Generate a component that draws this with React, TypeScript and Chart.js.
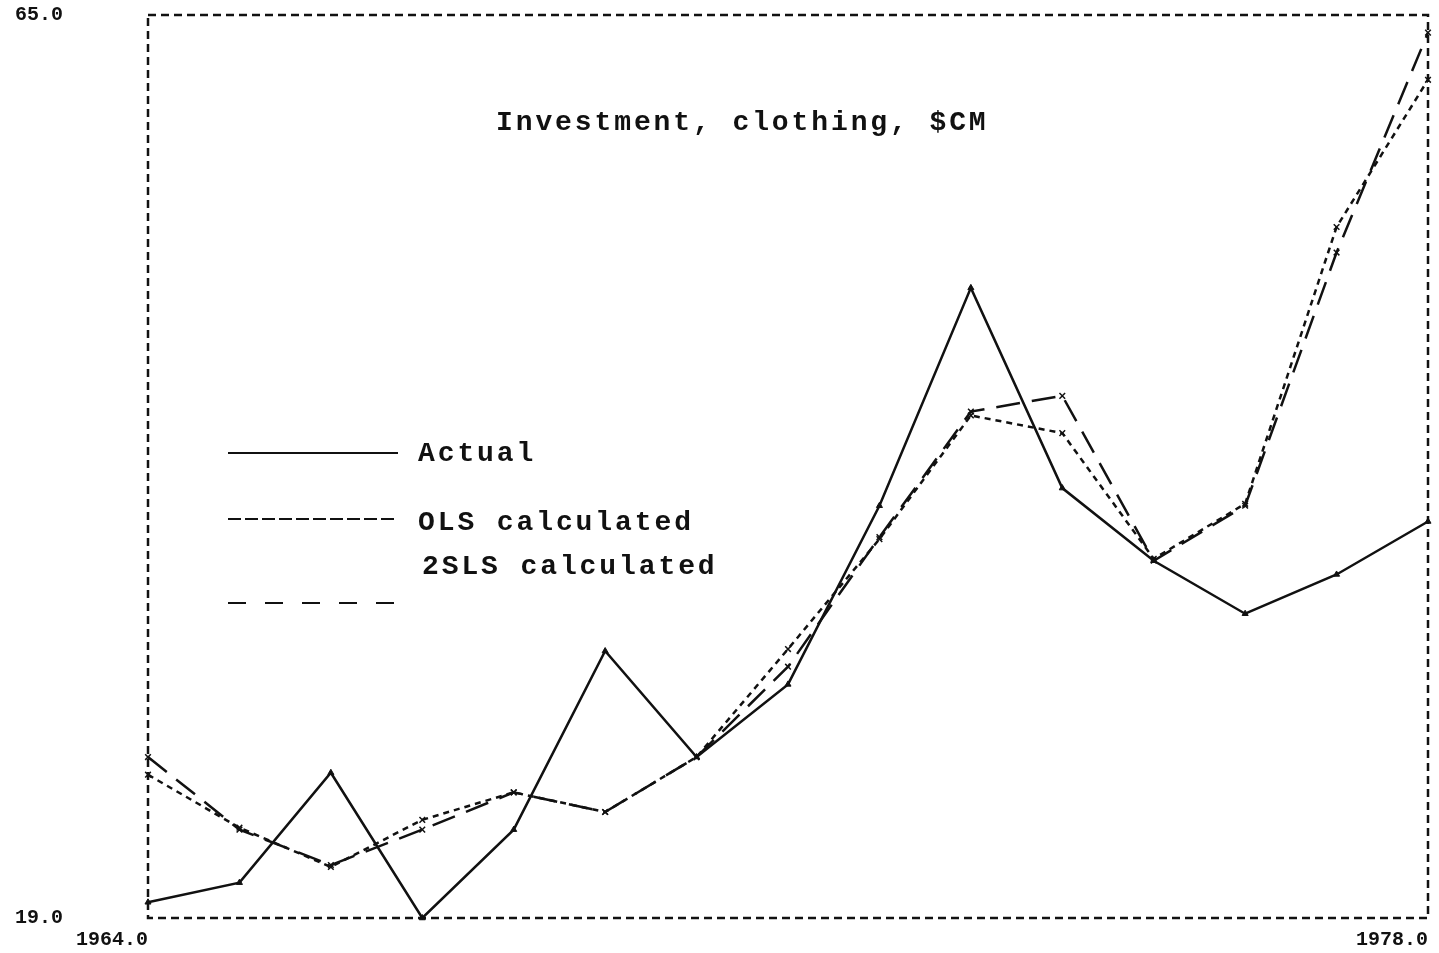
import React, { useEffect, useRef } from "react";
import { Chart, registerables } from "chart.js";

Chart.register(...registerables);

// Annual observations, 1964–1978
const years = [1964, 1965, 1966, 1967, 1968, 1969, 1970, 1971, 1972, 1973, 1974, 1975, 1976, 1977, 1978];
const actual = [19.8, 20.8, 26.4, 19.0, 23.5, 32.6, 27.2, 30.9, 40.0, 51.1, 40.9, 37.2, 34.5, 36.5, 39.2];
const olsCalculated = [26.3, 23.6, 21.6, 24.0, 25.4, 24.4, 27.2, 32.7, 38.3, 44.6, 43.7, 37.3, 40.1, 54.2, 61.7];
const tslsCalculated = [27.2, 23.5, 21.7, 23.5, 25.4, 24.4, 27.2, 31.8, 38.4, 44.8, 45.6, 37.2, 40.0, 52.9, 64.1];

const seriesLabels = ["Actual", "OLS calculated", "2SLS calculated"];
const xTickValues = [1964, 1978];
const yTickValues = [19, 65];
const titleText = "Investment, clothing, $CM";

const INK = "#111111";
const TEXT_FONT = "bold 28px 'Liberation Mono', 'Courier New', monospace";
const TICK_FONT = { family: "'Liberation Mono', monospace", size: 20, weight: "bold" as const };

// Dash patterns used for the key samples (the plotter draws them coarser than the curves)
const keyDashes: number[][] = [[], [13, 4], [18, 19]];

const annotationsPlugin = {
  id: "frameTitleKey",
  beforeDatasetsDraw(chart: any) {
    const { ctx, chartArea: a } = chart;
    ctx.save();
    ctx.strokeStyle = INK;
    ctx.lineWidth = 2.5;
    ctx.setLineDash([8, 5]);
    ctx.strokeRect(a.left, a.top, a.right - a.left, a.bottom - a.top);
    ctx.restore();
  },
  afterDraw(chart: any) {
    const { ctx, chartArea: a } = chart;
    ctx.save();
    ctx.fillStyle = INK;
    ctx.strokeStyle = INK;
    ctx.font = TEXT_FONT;
    ctx.textAlign = "left";
    ctx.textBaseline = "alphabetic";
    (ctx as any).letterSpacing = "2.9px";
    ctx.fillText(titleText, a.left + 348, a.top + 115);

    const sampleY = [438, 504, 588];
    const textY = [446, 515, 559];
    const textX = [270, 270, 274];
    chart.data.datasets.forEach((ds: any, i: number) => {
      ctx.lineWidth = 2;
      ctx.setLineDash(keyDashes[i]);
      ctx.beginPath();
      ctx.moveTo(a.left + 80, a.top + sampleY[i]);
      ctx.lineTo(a.left + 250, a.top + sampleY[i]);
      ctx.stroke();
      ctx.fillText(ds.label, a.left + textX[i], a.top + textY[i]);
    });
    ctx.restore();
  },
};

const noScalePadding = (scale: any) => {
  scale.paddingTop = 0;
  scale.paddingBottom = 0;
  scale.paddingLeft = 0;
  scale.paddingRight = 0;
};

export default function App() {
  const canvasRef = useRef<HTMLCanvasElement | null>(null);

  useEffect(() => {
    if (!canvasRef.current) return;
    const toPoints = (vals: number[]) => years.map((yr, i) => ({ x: yr, y: vals[i] }));

    const chart = new Chart(canvasRef.current, {
      type: "line",
      data: {
        datasets: [
          {
            label: seriesLabels[0],
            data: toPoints(actual),
            borderColor: INK,
            backgroundColor: INK,
            borderWidth: 2.5,
            pointStyle: "triangle",
            pointRadius: 3.5,
            pointBorderWidth: 1,
            tension: 0,
            clip: false,
          },
          {
            label: seriesLabels[1],
            data: toPoints(olsCalculated),
            borderColor: INK,
            backgroundColor: INK,
            borderWidth: 2.5,
            borderDash: [6, 5],
            pointStyle: "crossRot",
            pointRadius: 4,
            pointBorderWidth: 1.5,
            tension: 0,
            clip: false,
          },
          {
            label: seriesLabels[2],
            data: toPoints(tslsCalculated),
            borderColor: INK,
            backgroundColor: INK,
            borderWidth: 2.5,
            borderDash: [24, 12],
            pointStyle: "crossRot",
            pointRadius: 4,
            pointBorderWidth: 1.5,
            tension: 0,
            clip: false,
          },
        ],
      },
      options: {
        animation: false,
        responsive: false,
        maintainAspectRatio: false,
        layout: { padding: { left: 0, top: 15, right: 11, bottom: 0 } },
        plugins: {
          legend: { display: false },
          title: { display: false },
          tooltip: { enabled: false },
        },
        scales: {
          x: {
            type: "linear",
            min: years[0],
            max: years[years.length - 1],
            grid: { display: false, drawTicks: false },
            border: { display: false },
            afterBuildTicks: (scale: any) => {
              scale.ticks = xTickValues.map((v) => ({ value: v }));
            },
            afterFit: (scale: any) => {
              scale.height = 35;
              noScalePadding(scale);
            },
            ticks: {
              autoSkip: false,
              maxRotation: 0,
              align: "end",
              padding: 10,
              color: INK,
              font: TICK_FONT,
              callback: (v: any) => Number(v).toFixed(1),
            },
          },
          y: {
            type: "linear",
            min: yTickValues[0],
            max: yTickValues[1],
            grid: { display: false, drawTicks: false },
            border: { display: false },
            afterBuildTicks: (scale: any) => {
              scale.ticks = yTickValues.map((v) => ({ value: v }));
            },
            afterFit: (scale: any) => {
              scale.width = 148;
              noScalePadding(scale);
            },
            ticks: {
              autoSkip: false,
              padding: 85,
              color: INK,
              font: TICK_FONT,
              callback: (v: any) => Number(v).toFixed(1),
            },
          },
        },
      },
      plugins: [annotationsPlugin],
    });

    return () => chart.destroy();
  }, []);

  return (
    <div style={{ position: "absolute", left: 0, top: 0, width: 1439, height: 953, background: "#ffffff" }}>
      <canvas ref={canvasRef} width={1439} height={953} style={{ display: "block", width: 1439, height: 953 }} />
    </div>
  );
}
